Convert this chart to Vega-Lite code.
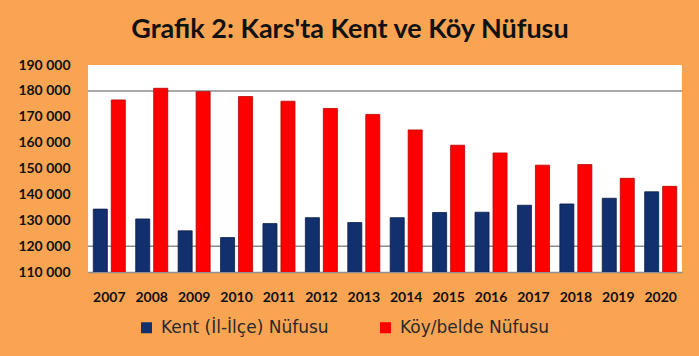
{
  "$schema": "https://vega.github.io/schema/vega-lite/v6.json",
  "width": 594,
  "height": 207,
  "autosize": "none",
  "padding": {"left": 88, "top": 65, "right": 17, "bottom": 84},
  "background": "#F9A452",
  "config": {
    "locale": {"number": {"decimal": ",", "thousands": " ", "grouping": [3], "currency": ["", ""]}},
    "view": {"stroke": null, "fill": "white"},
    "font": "Lato"
  },
  "title": {
    "text": "Grafik 2: Kars'ta Kent ve Köy Nüfusu",
    "fontSize": 27,
    "font": "Lato",
    "fontWeight": "bold",
    "color": "#111111",
    "anchor": "middle",
    "dx": -35,
    "dy": 32,
    "offset": 25,
    "baseline": "alphabetic"
  },
  "datasets": {
    "pop": [
      {"yil": "2007", "tur": "Kent (İl-İlçe) Nüfusu", "nufus": 134300},
      {"yil": "2007", "tur": "Köy/belde Nüfusu", "nufus": 176500},
      {"yil": "2008", "tur": "Kent (İl-İlçe) Nüfusu", "nufus": 130500},
      {"yil": "2008", "tur": "Köy/belde Nüfusu", "nufus": 181000},
      {"yil": "2009", "tur": "Kent (İl-İlçe) Nüfusu", "nufus": 125900},
      {"yil": "2009", "tur": "Köy/belde Nüfusu", "nufus": 179700},
      {"yil": "2010", "tur": "Kent (İl-İlçe) Nüfusu", "nufus": 123300},
      {"yil": "2010", "tur": "Köy/belde Nüfusu", "nufus": 177800},
      {"yil": "2011", "tur": "Kent (İl-İlçe) Nüfusu", "nufus": 128700},
      {"yil": "2011", "tur": "Köy/belde Nüfusu", "nufus": 176000},
      {"yil": "2012", "tur": "Kent (İl-İlçe) Nüfusu", "nufus": 131000},
      {"yil": "2012", "tur": "Köy/belde Nüfusu", "nufus": 173200},
      {"yil": "2013", "tur": "Kent (İl-İlçe) Nüfusu", "nufus": 129100},
      {"yil": "2013", "tur": "Köy/belde Nüfusu", "nufus": 170900},
      {"yil": "2014", "tur": "Kent (İl-İlçe) Nüfusu", "nufus": 131000},
      {"yil": "2014", "tur": "Köy/belde Nüfusu", "nufus": 164900},
      {"yil": "2015", "tur": "Kent (İl-İlçe) Nüfusu", "nufus": 133000},
      {"yil": "2015", "tur": "Köy/belde Nüfusu", "nufus": 159000},
      {"yil": "2016", "tur": "Kent (İl-İlçe) Nüfusu", "nufus": 133100},
      {"yil": "2016", "tur": "Köy/belde Nüfusu", "nufus": 156000},
      {"yil": "2017", "tur": "Kent (İl-İlçe) Nüfusu", "nufus": 135800},
      {"yil": "2017", "tur": "Köy/belde Nüfusu", "nufus": 151300},
      {"yil": "2018", "tur": "Kent (İl-İlçe) Nüfusu", "nufus": 136300},
      {"yil": "2018", "tur": "Köy/belde Nüfusu", "nufus": 151500},
      {"yil": "2019", "tur": "Kent (İl-İlçe) Nüfusu", "nufus": 138500},
      {"yil": "2019", "tur": "Köy/belde Nüfusu", "nufus": 146200},
      {"yil": "2020", "tur": "Kent (İl-İlçe) Nüfusu", "nufus": 141000},
      {"yil": "2020", "tur": "Köy/belde Nüfusu", "nufus": 143100}
    ],
    "grid": [
      {"nufus": 120000},
      {"nufus": 180000}
    ]
  },
  "encoding": {
    "y": {
      "field": "nufus",
      "type": "quantitative",
      "scale": {"domain": [110000, 190000], "nice": false, "zero": false},
      "axis": {
        "title": null,
        "values": [110000, 120000, 130000, 140000, 150000, 160000, 170000, 180000, 190000],
        "labelOverlap": false,
        "labelFlush": false,
        "labelFontSize": 14,
        "labelFontWeight": "bold",
        "labelColor": "#111111",
        "labelPadding": 18,
        "ticks": false,
        "domain": false,
        "grid": false
      }
    }
  },
  "layer": [
    {
      "data": {"name": "grid"},
      "mark": {"type": "rule", "color": "#8C8C8C", "strokeWidth": 1.5}
    },
    {
      "data": {"name": "pop"},
      "mark": {"type": "bar", "strokeWidth": 0.8, "clip": true},
      "encoding": {
        "x": {
          "field": "yil",
          "type": "ordinal",
          "scale": {"paddingInner": 0.245, "paddingOuter": 0.125},
          "axis": {
            "title": null,
            "labelAngle": 0,
            "labelFontSize": 14,
            "labelFontWeight": "bold",
            "labelColor": "#111111",
            "labelPadding": 18,
            "ticks": false,
            "domainColor": "#8C8C8C",
            "domainWidth": 1.5
          }
        },
        "xOffset": {
          "field": "tur",
          "type": "nominal",
          "scale": {"paddingInner": 0.22, "paddingOuter": 0}
        },
        "color": {
          "field": "tur",
          "type": "nominal",
          "scale": {"range": ["#12306E", "#FF0000"]},
          "legend": {
            "orient": "none",
            "legendX": 50,
            "legendY": 254,
            "direction": "horizontal",
            "title": null,
            "symbolType": "square",
            "symbolSize": 121,
            "symbolStrokeWidth": 0,
            "labelFont": "DejaVu Sans",
            "labelFontSize": 17,
            "labelLimit": 400,
            "labelColor": "#2A2A2A",
            "labelOffset": 6,
            "columnPadding": 48
          }
        },
        "stroke": {
          "field": "tur",
          "type": "nominal",
          "scale": {"range": ["#0A1D48", "#B80000"]},
          "legend": null
        }
      }
    }
  ]
}
